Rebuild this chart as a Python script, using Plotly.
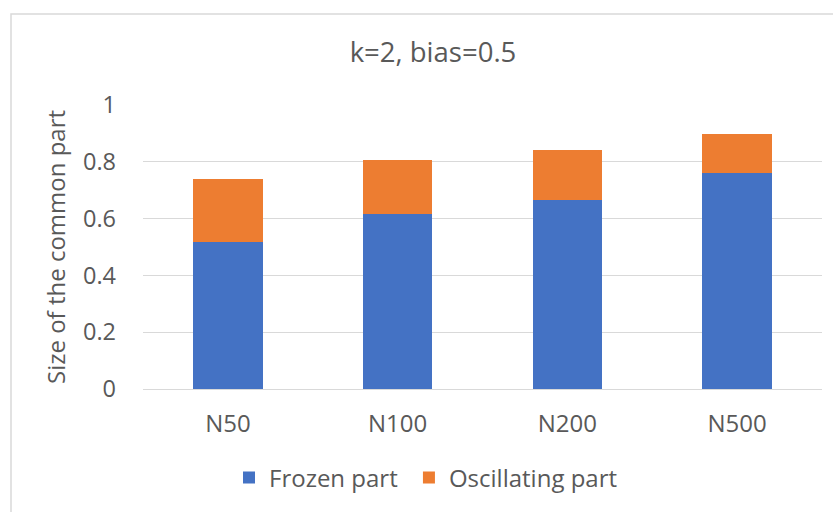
import plotly.graph_objects as go

categories = ["N50", "N100", "N200", "N500"]
frozen = [0.516, 0.615, 0.667, 0.759]
oscillating = [0.222, 0.19, 0.176, 0.139]
series_names = ["Frozen part", "Oscillating part"]
title_text = "k=2, bias=0.5"
y_title = "Size of the common part"
y_ticks = [0, 0.2, 0.4, 0.6, 0.8, 1]
y_ticklabels = ["0", "0.2", "0.4", "0.6", "0.8", "1"]

FONT = "'Open Sans', sans-serif"
GREY = "#595959"
NBSP = "\u00a0"

fig = go.Figure()
fig.add_trace(go.Bar(x=categories, y=frozen, name=series_names[0] + NBSP,
                     marker=dict(color="#4472C4", line=dict(width=0))))
fig.add_trace(go.Bar(x=categories, y=oscillating, name=series_names[1],
                     marker=dict(color="#ED7D31", line=dict(width=0))))

W, H = 833, 512
L, R, T, B = 143, 11, 105, 123
pw = W - L - R
ph = H - T - B

def px_x(p):
    return (p - L) / pw

def px_y(p):
    return (H - B - p) / ph

fig.update_layout(
    width=W, height=H,
    margin=dict(l=L, r=R, t=T, b=B),
    barmode="stack",
    bargap=0.59,
    plot_bgcolor="white",
    paper_bgcolor="white",
    font=dict(family=FONT, color=GREY, size=23),
    title=dict(text=title_text, x=433 / W, xanchor="center",
               y=1 - 52 / H, yanchor="middle",
               font=dict(size=27.5, color=GREY, family=FONT)),
    xaxis=dict(showgrid=False, showline=True, linecolor="#d9d9d9", linewidth=1,
               ticks="", tickfont=dict(size=24, color=GREY), ticklabelstandoff=13),
    yaxis=dict(range=[0, 1], tickvals=y_ticks, ticktext=y_ticklabels,
               showgrid=True, gridcolor="#d9d9d9", gridwidth=1,
               zeroline=False, showline=False, ticks="",
               tickfont=dict(size=23.5, color=GREY), ticklabelstandoff=26,
               title=dict(text=y_title, font=dict(size=24, color=GREY), standoff=10)),
    legend=dict(orientation="h", x=px_x(229), xanchor="left",
                y=px_y(478), yanchor="middle",
                font=dict(size=24, color=GREY), traceorder="normal",
                itemwidth=30),
    showlegend=True,
)

fig.add_shape(type="rect", xref="paper", yref="paper",
              x0=px_x(11), x1=px_x(840), y0=px_y(520), y1=px_y(14),
              line=dict(color="#d9d9d9", width=1.5), fillcolor="rgba(0,0,0,0)",
              layer="below")

fig.write_html("out.html")
